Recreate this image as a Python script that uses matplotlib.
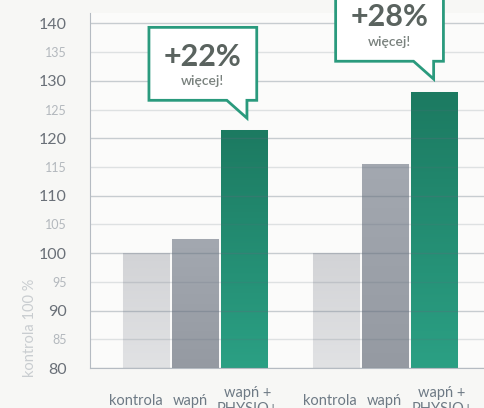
import numpy as np
import matplotlib.pyplot as plt
import matplotlib.transforms as mtransforms
from matplotlib.patches import Polygon
from matplotlib.colors import LinearSegmentedColormap

# data
labels = ['kontrola', 'wapń', 'wapń +\nPHYSIO+']
group1 = [100, 102.4, 121.4]
group2 = [100, 115.5, 128]
gains = ['+22%', '+28%']
# top colour, bottom colour for each bar type
bar_shades = [('#d2d3d6', '#e1e2e4'), ('#a3a8b0', '#959aa2'), ('#1c7a61', '#2ba084')]

plt.rcParams['font.family'] = ['Lato', 'DejaVu Sans']

fig = plt.figure(figsize=(4.84, 4.08), dpi=100)
fig.patch.set_facecolor('#f7f7f5')
ax = fig.add_axes([90 / 484, 1 - 368 / 408, 1 - 90 / 484, (368 - 13) / 408])
ax.set_facecolor('#fbfbfa')

# bar positions (group gap a bit wider than bar spacing)
x1 = np.arange(3)
x2 = np.arange(3) + 3.87
width = 0.94

bars = []
for xs, vals in [(x1, group1), (x2, group2)]:
    b = ax.bar(xs, vals, width=width, bottom=0,
               color=[s[0] for s in bar_shades],
               edgecolor='#f3f3f3', linewidth=0.8, zorder=1)
    bars.extend(b.patches)

# vertical gradient on each bar
grad = np.linspace(0, 1, 256).reshape(-1, 1)
for i, p in enumerate(bars):
    top_c, bot_c = bar_shades[i % 3]
    cmap = LinearSegmentedColormap.from_list('g', [bot_c, top_c])
    x0 = p.get_x()
    im = ax.imshow(grad, cmap=cmap, aspect='auto', origin='lower',
                   extent=(x0, x0 + p.get_width(), 80, p.get_height()),
                   zorder=1.5)
    im.set_clip_path(p)
ax.set_xlim(-1.143, 6.898)
ax.set_ylim(80, 141.8)

# grid lines drawn over the bars
for v in range(80, 141, 5):
    major = v % 10 == 0
    ax.axhline(v, color='#5c6b7a', alpha=0.32 if major else 0.18,
               linewidth=1.0, zorder=3)

ax.set_yticks(range(80, 141, 10))
ax.set_yticks(range(85, 140, 10), minor=True)
ax.set_yticklabels([str(v) for v in range(85, 140, 10)], minor=True)
ax.tick_params(axis='y', which='major', length=0, pad=17, labelsize=11.5,
               labelcolor='#6a7078')
ax.tick_params(axis='y', which='minor', length=0, pad=17, labelsize=9,
               labelcolor='#b3b8bd')

# category labels under the bars (slightly shifted like the original)
ax.set_xticks([])
label_shift = [[-0.21, -0.10, 0.07], [-0.11, -0.01, 0.17]]
trans = mtransforms.blended_transform_factory(ax.transData, ax.transAxes)
for xs, shifts in [(x1, label_shift[0]), (x2, label_shift[1])]:
    for x, s, lab in zip(xs, shifts, labels):
        ax.text(x + s, -0.093, lab, transform=trans, ha='center', va='center',
                fontsize=10.5, color='#6e7a85', linespacing=1.1, clip_on=False)

for s in ['top', 'right']:
    ax.spines[s].set_visible(False)
ax.spines['left'].set_color('#b5bbc2')
ax.spines['bottom'].set_color('#b5bbc2')
ax.spines['left'].set_zorder(4)
ax.spines['bottom'].set_zorder(4)

fig.text(30 / 484, 1 - 328 / 408, 'kontrola 100 %', rotation=90,
         ha='center', va='center', fontsize=10.5, color='#c9cdd0')


def callout(ax, tx, ty, gain):
    # speech bubble whose tail points at (tx, ty)
    left, right = tx - 2.0, tx + 0.2
    bottom = ty + 3.1
    top = bottom + 12.7
    pts = [(left, bottom), (tx - 0.41, bottom), (tx, ty), (tx, bottom),
           (right, bottom), (right, top), (left, top)]
    poly = Polygon(pts, closed=True, facecolor='white', edgecolor='#2a9a7d',
                   linewidth=2, zorder=6, clip_on=False, joinstyle='miter')
    ax.add_patch(poly)
    cx = (left + right) / 2
    h = top - bottom
    ax.text(cx, bottom + 0.6 * h, gain, ha='center', va='center',
            fontsize=22, fontweight='bold', color='#5a635f', zorder=7)
    ax.text(cx, bottom + 0.27 * h, 'więcej!', ha='center', va='center',
            fontsize=10, fontweight='semibold', color='#7a827e', zorder=7)


callout(ax, x1[2] + 0.06, group1[2] + 2.1, gains[0])
callout(ax, x2[2], group2[2] + 2.3, gains[1])

fig.savefig('out.png', dpi=100, facecolor=fig.get_facecolor())
